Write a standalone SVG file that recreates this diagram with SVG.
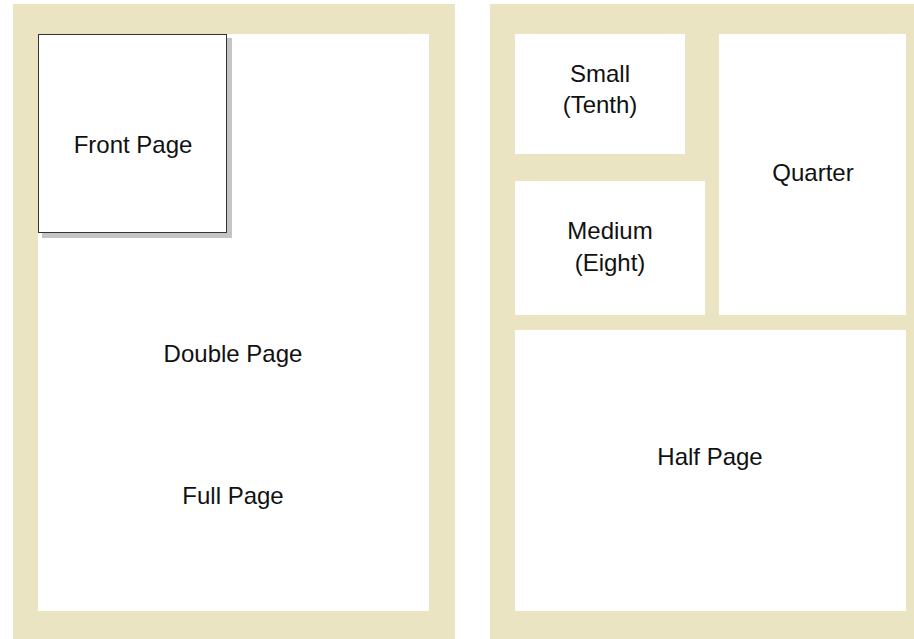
<svg xmlns="http://www.w3.org/2000/svg" width="914" height="639" viewBox="0 0 914 639">
<style>
.bg{fill:#ffffff}
.panel{fill:#eae4c3}
.box{fill:#ffffff}
.lbl{font-family:"Liberation Sans",Arial,sans-serif;font-size:24px;fill:#111111;text-anchor:middle}
</style>
<rect class="bg" x="0" y="0" width="914" height="639"/>
<g id="left-panel">
<rect class="panel" x="13" y="4" width="442" height="635"/>
<rect class="box" x="38" y="34" width="391" height="577"/>
</g>
<g id="right-panel">
<rect class="panel" x="490" y="4" width="424" height="635"/>
</g>
<g id="double-full-page">
<text class="lbl" x="233" y="362">Double Page</text>
<text class="lbl" x="233" y="504">Full Page</text>
</g>
<g id="front-page">
<rect x="42" y="38" width="190" height="200" fill="#c4c4c4"/>
<rect x="38.5" y="34.5" width="188" height="198" fill="#ffffff" stroke="#333333" stroke-width="1"/>
<text class="lbl" x="133" y="153">Front Page</text>
</g>
<g id="small">
<rect class="box" x="515" y="34" width="170" height="120"/>
<text class="lbl" x="600" y="82">Small</text>
<text class="lbl" x="600" y="113">(Tenth)</text>
</g>
<g id="medium">
<rect class="box" x="515" y="181" width="190" height="134"/>
<text class="lbl" x="610" y="239">Medium</text>
<text class="lbl" x="610" y="271">(Eight)</text>
</g>
<g id="quarter">
<rect class="box" x="719" y="34" width="187" height="281"/>
<text class="lbl" x="813" y="181">Quarter</text>
</g>
<g id="half-page">
<rect class="box" x="515" y="330" width="391" height="281"/>
<text class="lbl" x="710" y="465">Half Page</text>
</g>
<g id="connectors"/>
</svg>
